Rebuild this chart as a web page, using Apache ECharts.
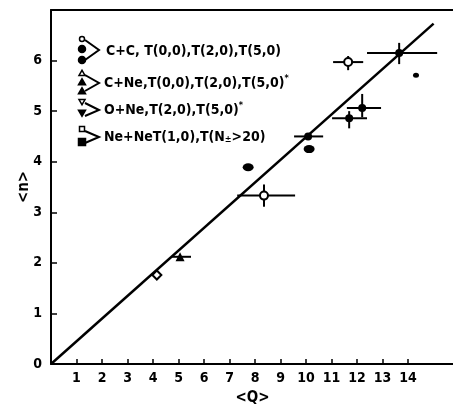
<!DOCTYPE html>
<html><head><meta charset="utf-8">
<script src="https://cdn.jsdelivr.net/npm/echarts@6/dist/echarts.min.js"></script>
<style>html,body{margin:0;padding:0;background:#fff}#c{width:453px;height:408px}</style>
</head><body><div id="c"></div>
<script>
// ---- data ----
var xTicks = [1,2,3,4,5,6,7,8,9,10,11,12,13,14];
var yTicks = [0,1,2,3,4,5,6];
var fitLine = [[0,0],[15,6.73]];
// open diamond
var openDiamond = [[4.15,1.76]];
// filled triangle with horizontal error
var filledTri = [[5.06,2.12]];
var filledTriXErr = [[4.75,5.49]];
// open circles with errors
var openCircle = [[8.35,3.33],[11.65,5.97]];
var openCircleXErr = [[7.3,9.57],[11.06,12.24]];
var openCircleYErr = [[3.11,3.55],[5.81,6.09]];
// filled ellipses (no errors)
var filledBlob = [[7.73,3.89],[10.12,4.25]];
// filled points with errors
var filledErr = [[10.08,4.5],[11.69,4.86],[12.2,5.06],[13.65,6.15]];
var filledErrX = [[9.53,10.67],[11.02,12.39],[11.6,12.94],[12.39,15.14]];
var filledErrY = [[4.5,4.5],[4.66,5.0],[4.88,5.34],[5.93,6.35]];
// small dot
var smallDot = [[14.31,5.71]];
// legend texts
var legendTexts = ['C+C, T(0,0),T(2,0),T(5,0)','C+Ne,T(0,0),T(2,0),T(5,0)','O+Ne,T(2,0),T(5,0)','Ne+NeT(1,0),T(N','>20)'];

var FONT = '"DejaVu Sans Condensed", "DejaVu Sans", sans-serif';

function errSeries(points, xe, ye) {
  var data = points.map(function (p, i) {
    return [p[0], p[1], xe ? xe[i][0] : p[0], xe ? xe[i][1] : p[0], ye ? ye[i][0] : p[1], ye ? ye[i][1] : p[1]];
  });
  return {
    type: 'custom', data: data, z: 3,
    encode: {x: [0,2,3], y: [1,4,5]},
    renderItem: function (params, api) {
      var x = api.value(0), y = api.value(1);
      var children = [];
      var st = {stroke: '#000', lineWidth: 2};
      if (api.value(2) !== api.value(3)) {
        var a = api.coord([api.value(2), y]), b = api.coord([api.value(3), y]);
        children.push({type: 'line', shape: {x1: a[0], y1: a[1], x2: b[0], y2: b[1]}, style: st});
      }
      if (api.value(4) !== api.value(5)) {
        var c = api.coord([x, api.value(4)]), d = api.coord([x, api.value(5)]);
        children.push({type: 'line', shape: {x1: c[0], y1: c[1], x2: d[0], y2: d[1]}, style: st});
      }
      return {type: 'group', children: children};
    }
  };
}

var chart = echarts.init(document.getElementById('c'));

// legend graphics
var lx = 82;
var g = [];
function circ(x, y, r, fill) { g.push({type:'circle', shape:{cx:x, cy:y, r:r}, style:{fill: fill ? '#000' : '#fff', stroke:'#000', lineWidth:1.5}}); }
function tri(x, y, s, fill, down) {
  var pts = down ? [[x-s,y-s*0.8],[x+s,y-s*0.8],[x,y+s*0.9]] : [[x-s,y+s*0.8],[x+s,y+s*0.8],[x,y-s*0.9]];
  g.push({type:'polygon', shape:{points:pts}, style:{fill: fill ? '#000' : '#fff', stroke:'#000', lineWidth:1.5}});
}
function sq(x, y, s, fill) { g.push({type:'rect', shape:{x:x-s, y:y-s, width:2*s, height:2*s}, style:{fill: fill ? '#000' : '#fff', stroke:'#000', lineWidth:1.5}}); }
function arrow(y1, ym, y2) {
  g.push({type:'polyline', shape:{points:[[lx+3,y1],[lx+17,ym],[lx+3,y2]]}, style:{stroke:'#000', lineWidth:2, fill:null}});
}
function txt(x, y, t, rich) {
  g.push({type:'text', x:x, y:y, style:{text:t, font:'bold 14px ' + FONT, fill:'#000', verticalAlign:'middle', rich: rich}});
}
var rich = {sup:{font:'bold 9px ' + FONT, verticalAlign:'top', padding:[0,0,8,0]}, sub:{font:'bold 9px ' + FONT, padding:[6,0,0,0]}};
// group 1
circ(lx, 39, 2.5, false); circ(lx, 49, 3.5, true); circ(lx, 60, 3.5, true);
arrow(40, 50, 60); txt(106, 51, legendTexts[0], rich);
// group 2
tri(lx, 73, 3, false); tri(lx, 82, 3.5, true); tri(lx, 91, 3.5, true);
arrow(75, 83, 91); txt(104, 83, legendTexts[1] + '{sup|*}', rich);
// group 3
tri(lx, 102, 3, false, true); tri(lx, 113, 3.5, true, true);
arrow(103, 110, 116); txt(104, 110, legendTexts[2] + '{sup|*}', rich);
// group 4
sq(lx, 129, 2.5, false); sq(lx, 142, 3.5, true);
arrow(131, 137, 143); txt(104, 137, legendTexts[3] + '{sub|±}' + legendTexts[4], rich);

var axisLabelStyle = {color:'#000', fontFamily: FONT, fontWeight:'bold', fontSize:14};

chart.setOption({
  animation: false,
  backgroundColor: '#fff',
  grid: {left: 51, top: 10, width: 403, height: 354, outerBoundsMode: 'none', containLabel: false},
  xAxis: [{
    type: 'value', min: 0, max: 15.8, interval: 1,
    axisLine: {lineStyle: {color:'#000', width:2}},
    axisTick: {inside: true, length: 5, lineStyle:{color:'#000', width:1.5}, customValues: xTicks},
    axisLabel: Object.assign({margin: 7, customValues: xTicks}, axisLabelStyle),
    splitLine: {show: false},
    name: '<Q>', nameLocation: 'middle', nameGap: 27, nameMoveOverlap: false,
    nameTextStyle: {color:'#000', fontFamily: FONT, fontWeight:'bold', fontSize:15}
  }, {
    type: 'value', position: 'top', min: 0, max: 15.8,
    axisLine: {show: true, onZero: false, lineStyle: {color:'#000', width:2}},
    axisTick: {show: false}, axisLabel: {show: false}, splitLine: {show: false}
  }],
  yAxis: {
    type: 'value', min: 0, max: 7, interval: 1,
    axisLine: {show: true, lineStyle: {color:'#000', width:2}},
    axisTick: {inside: true, length: 6, lineStyle:{color:'#000', width:1.5}, customValues: [1,2,3,4,5,6]},
    axisLabel: Object.assign({margin: 9, customValues: yTicks}, axisLabelStyle),
    splitLine: {show: false},
    name: '<n>', nameLocation: 'middle', nameGap: 19, nameRotate: 90, nameMoveOverlap: false,
    nameTextStyle: {color:'#000', fontFamily: FONT, fontWeight:'bold', fontSize:15}
  },
  graphic: g,
  series: [
    {type:'line', data: fitLine, symbol:'none', lineStyle:{color:'#000', width:2.5}, z:2},
    errSeries(filledTri, filledTriXErr, null),
    errSeries(openCircle, openCircleXErr, openCircleYErr),
    errSeries(filledErr, filledErrX, filledErrY),
    {type:'scatter', data: openDiamond, symbol:'diamond', symbolSize:9, itemStyle:{color:'#fff', borderColor:'#000', borderWidth:2, opacity:1}, z:4},
    {type:'scatter', data: filledTri, symbol:'triangle', symbolSize:9, itemStyle:{color:'#000', opacity:1}, z:4},
    {type:'scatter', data: openCircle, symbol:'circle', symbolSize:8, itemStyle:{color:'#fff', borderColor:'#000', borderWidth:2, opacity:1}, z:4},
    {type:'scatter', data: filledBlob, symbol:'circle', symbolSize:[11,8], itemStyle:{color:'#000', opacity:1}, z:4},
    {type:'scatter', data: filledErr, symbol:'circle', symbolSize:8, itemStyle:{color:'#000', opacity:1}, z:4},
    {type:'scatter', data: smallDot, symbol:'circle', symbolSize:[6,5], itemStyle:{color:'#000', opacity:1}, z:4}
  ]
});
</script></body></html>
